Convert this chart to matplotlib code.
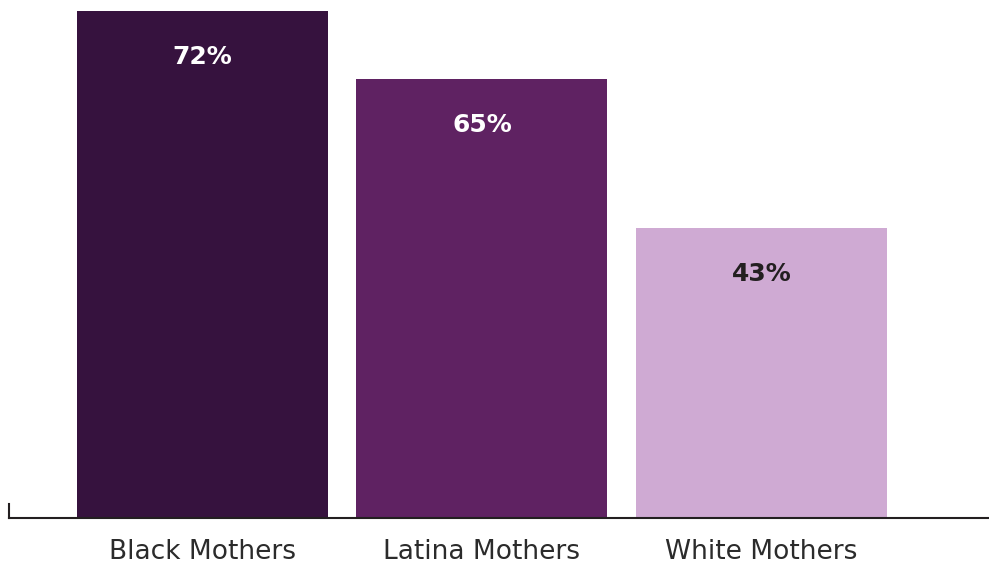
import matplotlib
matplotlib.use("Agg")
import matplotlib.pyplot as plt

# ---- data ------------------------------------------------------------------
CATEGORIES = ["Black Mothers", "Latina Mothers", "White Mothers"]
# bar heights as drawn (the first bar is drawn taller than its label suggests)
HEIGHTS = [75.1, 65, 43]
LABELS = ["72%", "65%", "43%"]

COLORS = ["#36123e", "#5f2262", "#cfaad3"]
TEXT_COLORS = ["white", "white", "#231f20"]
DARK = "#231f20"

fig = plt.figure(figsize=(9.89, 5.66), dpi=100)
ax = fig.add_axes([9 / 989, 48 / 566, 980 / 989, 518 / 566])

xs = range(len(CATEGORIES))
ax.bar(list(xs), HEIGHTS, width=0.898, color=COLORS, zorder=2)

for x, h, lab, tc in zip(xs, HEIGHTS, LABELS, TEXT_COLORS):
    ax.annotate(lab, (x, h), textcoords="offset points", xytext=(0, -33),
                ha="center", va="center", fontsize=18, fontweight="bold",
                color=tc)

ax.set_xlim(-0.692, 2.814)
ax.set_ylim(0, 518 / 6.75)

for side in ("top", "right"):
    ax.spines[side].set_visible(False)
ax.spines["bottom"].set_color(DARK)
ax.spines["bottom"].set_linewidth(1.5)
ax.spines["left"].set_color(DARK)
ax.spines["left"].set_linewidth(1.5)
ax.spines["left"].set_bounds(0, 14 / 6.75)

ax.set_yticks([])
ax.set_xticks(list(xs))
ax.set_xticklabels(CATEGORIES, fontsize=19, color="#2b2b2b")
ax.tick_params(axis="x", length=0, pad=15)

fig.savefig("out.png", dpi=100)
